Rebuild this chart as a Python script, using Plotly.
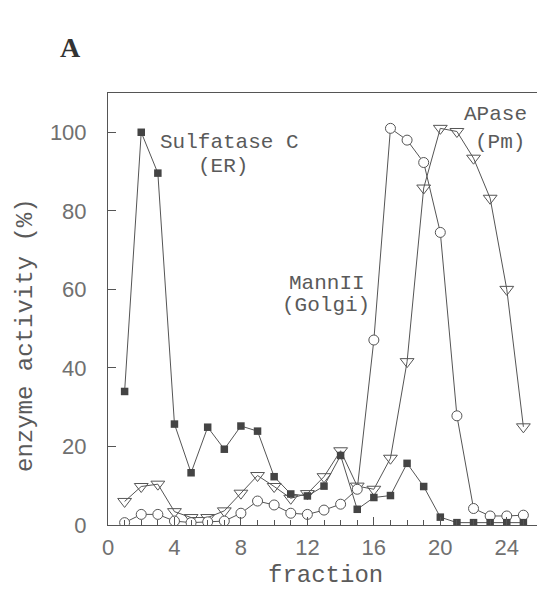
import plotly.graph_objects as go

fractions = list(range(1, 26))
sulfatase_c = [34, 100, 89.6, 25.7, 13.3, 24.9, 19.3, 25.2, 23.9, 12.3, 7.9, 7.4, 9.9, 17.7, 4.0,
               7.0, 7.5, 15.7, 9.8, 2.0, 0.6, 0.6, 0.6, 0.6, 0.6]
mannii = [0.6, 2.7, 2.7, 1.0, 0.6, 0.8, 1.0, 3.0, 6.1, 5.1, 3.0, 2.7, 3.8, 5.3, 9.1,
          47.1, 101, 98, 92.3, 74.5, 27.8, 4.2, 2.3, 2.3, 2.5]
apase = [6.0, 9.8, 10.4, 3.4, 1.9, 1.9, 3.6, 8.1, 12.6, 9.8, 6.8, 8.0, 12.3, 18.9, 9.9,
         9.1, 17.0, 41.6, 85.8, 101, 100.2, 93.4, 83.2, 60, 25]

x_ticks = [0, 4, 8, 12, 16, 20, 24]
y_ticks = [0, 20, 40, 60, 80, 100]

line_col = "#555555"
text_col = "#5a5a5a"
mono = "Liberation Mono"

# figure geometry (page is offset by the body's 8px margin)
W, H = 537, 582
ML, MR, MT, MB = 100, 5, 85, 65
PW, PH = W - ML - MR, H - MT - MB

def px(xp):  # fig pixel x -> paper
    return (xp - ML) / PW

def py(yp):  # fig pixel y -> paper
    return (H - MB - yp) / PH

fig = go.Figure()
fig.add_trace(go.Scatter(x=fractions, y=apase, mode="lines+markers",
                         line=dict(color=line_col, width=1),
                         marker=dict(symbol="triangle-down-open", size=12, color=line_col,
                                     line=dict(width=1)),
                         name="APase"))
fig.add_trace(go.Scatter(x=fractions, y=mannii, mode="lines+markers",
                         line=dict(color=line_col, width=1),
                         marker=dict(symbol="circle", size=10, color="white",
                                     line=dict(width=1, color=line_col)),
                         name="MannII"))
fig.add_trace(go.Scatter(x=fractions, y=sulfatase_c, mode="lines+markers",
                         line=dict(color=line_col, width=1),
                         marker=dict(symbol="square", size=7.5, color="#444444",
                                     line=dict(width=0)),
                         name="Sulfatase C"))

ann_font = dict(family=mono, size=21, color=text_col)
annotations = [
    dict(x=7.34, y=97.5, text="Sulfatase C", showarrow=False, font=ann_font),
    dict(x=6.9, y=91.4, text="(ER)", showarrow=False, font=ann_font),
    dict(x=13.2, y=61.6, text="MannII", showarrow=False, font=ann_font),
    dict(x=13.1, y=56.0, text="(Golgi)", showarrow=False, font=ann_font),
    dict(x=23.35, y=104.4, text="APase", showarrow=False, font=ann_font),
    dict(x=23.6, y=97.5, text="(Pm)", showarrow=False, font=ann_font),
    dict(x=px(62), y=py(39), xref="paper", yref="paper", text="<b>A</b>", showarrow=False,
         xanchor="center", yanchor="middle",
         font=dict(family="Liberation Serif", size=28, color="#333333")),
    dict(x=px(17), y=py(327), xref="paper", yref="paper", text="enzyme activity (%)",
         showarrow=False, textangle=-90, xanchor="center", yanchor="middle",
         font=dict(family=mono, size=24, color=text_col)),
    dict(x=px(317), y=py(567), xref="paper", yref="paper", text="fraction",
         showarrow=False, xanchor="center", yanchor="middle",
         font=dict(family=mono, size=24, color=text_col)),
]

fig.update_layout(
    width=W, height=H,
    margin=dict(l=ML, r=MR, t=MT, b=MB),
    paper_bgcolor="white", plot_bgcolor="white",
    showlegend=False,
    annotations=annotations,
)
fig.update_xaxes(range=[0, 26], tickvals=x_ticks, ticks="inside", ticklen=8,
                 tickcolor=line_col, showline=True, linecolor=line_col, mirror=True,
                 showgrid=False, zeroline=False, ticklabelstandoff=3,
                 minor=dict(dtick=1, ticks="inside", ticklen=5, tickcolor=line_col),
                 tickfont=dict(family="Liberation Sans", size=22, color="#707070"))
fig.update_yaxes(range=[0, 110], tickvals=y_ticks, ticks="inside", ticklen=8,
                 tickcolor=line_col, showline=True, linecolor=line_col, mirror=True,
                 showgrid=False, zeroline=False, ticklabelstandoff=16,
                 tickfont=dict(family="Liberation Sans", size=22, color="#707070"))

fig.write_html("out.html")
